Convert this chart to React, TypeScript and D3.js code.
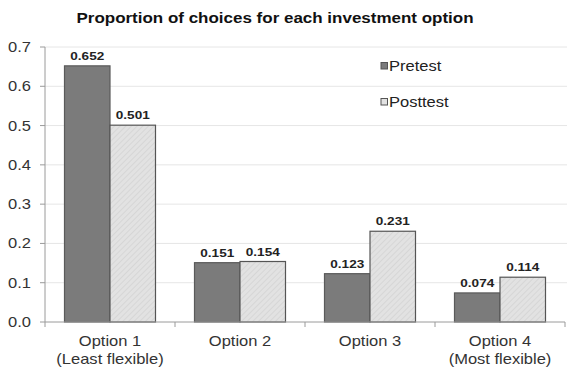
import React, { useEffect, useRef } from "react";
import * as d3 from "d3";

const categories = ["Option 1", "Option 2", "Option 3", "Option 4"];
const subLabels = ["(Least flexible)", "", "", "(Most flexible)"];
const seriesNames = ["Pretest", "Posttest"];
const pretest = [0.652, 0.151, 0.123, 0.074];
const posttest = [0.501, 0.154, 0.231, 0.114];
const yTicks = [0, 0.1, 0.2, 0.3, 0.4, 0.5, 0.6, 0.7];

const W = 567;
const H = 372;
const FONT = "Arial, 'Liberation Sans', Helvetica, sans-serif";
const SX = 1.18; // horizontal stretch of glyphs

export default function App() {
  const ref = useRef<SVGSVGElement>(null);

  useEffect(() => {
    const svg = d3.select(ref.current);
    svg.selectAll("*").remove();

    const left = 45, right = 565, top = 47, bottom = 322;
    const x = d3.scaleBand<string>().domain(categories).range([left, right]).paddingInner(0.3).paddingOuter(0.15);
    const xs = d3.scaleBand<string>().domain(seriesNames).range([0, x.bandwidth()]);
    const y = d3.scaleLinear().domain([0, 0.7]).range([bottom, top]);

    const defs = svg.append("defs");
    const pat = defs.append("pattern").attr("id", "hatch").attr("patternUnits", "userSpaceOnUse")
      .attr("width", 4).attr("height", 4).attr("patternTransform", "rotate(45)");
    pat.append("rect").attr("width", 4).attr("height", 4).attr("fill", "#e2e2e2");
    pat.append("line").attr("x1", 0).attr("y1", 0).attr("x2", 0).attr("y2", 4)
      .attr("stroke", "#cfcfcf").attr("stroke-width", 1.2);

    const stretchText = (sel: d3.Selection<SVGTextElement, any, any, any>, ax: number, ay: number) =>
      sel.attr("transform", `translate(${ax},${ay}) scale(${SX},1)`);

    // gridlines
    svg.append("g").selectAll("line").data(yTicks.filter(d => d > 0)).join("line")
      .attr("x1", left).attr("x2", W).attr("y1", d => y(d)).attr("y2", d => y(d))
      .attr("stroke", "#e6e6e6").attr("stroke-width", 1);

    // y axis
    svg.append("line").attr("x1", left).attr("x2", left).attr("y1", y(0.7)).attr("y2", bottom).attr("stroke", "#9a9a9a");
    svg.append("g").selectAll("line").data(yTicks).join("line")
      .attr("x1", left - 5).attr("x2", left).attr("y1", d => y(d)).attr("y2", d => y(d)).attr("stroke", "#9a9a9a");
    svg.append("g").selectAll("text").data(yTicks).join("text")
      .each(function (d) { stretchText(d3.select(this as SVGTextElement), 31, y(d) + 5); })
      .attr("text-anchor", "end").attr("font-family", FONT).attr("font-size", 14).attr("fill", "#333")
      .text(d => d3.format(".1f")(d));

    // bars
    const groups = svg.append("g").selectAll("g").data(categories).join("g")
      .attr("transform", d => `translate(${x(d)},0)`);
    const vals = [pretest, posttest];
    seriesNames.forEach((s, si) => {
      groups.append("rect")
        .attr("x", xs(s)!).attr("width", xs.bandwidth())
        .attr("y", (_, i) => y(vals[si][i])).attr("height", (_, i) => bottom - y(vals[si][i]))
        .attr("fill", si === 0 ? "#7b7b7b" : "url(#hatch)")
        .attr("stroke", si === 0 ? "#5a5a5a" : "#555").attr("stroke-width", 1.2);
      groups.append("text")
        .each(function (_, i) {
          stretchText(d3.select(this as SVGTextElement), xs(s)! + xs.bandwidth() / 2, y(vals[si][i]) - 6);
        })
        .attr("text-anchor", "middle").attr("font-family", FONT).attr("font-size", 11.5).attr("font-weight", "bold")
        .attr("fill", "#222").text((_, i) => vals[si][i].toFixed(3));
    });

    // x axis
    svg.append("line").attr("x1", left).attr("x2", right).attr("y1", bottom).attr("y2", bottom).attr("stroke", "#9a9a9a");
    svg.append("g").selectAll("line").data([left, ...categories.map(c => x(c)! - x.step() * 0.15 + x.step())]).join("line")
      .attr("x1", d => d).attr("x2", d => d).attr("y1", bottom).attr("y2", bottom + 5).attr("stroke", "#9a9a9a");
    categories.forEach((c, i) => {
      const cx = x(c)! + x.bandwidth() / 2;
      stretchText(svg.append("text"), cx, 346).attr("text-anchor", "middle").attr("font-family", FONT)
        .attr("font-size", 14).attr("fill", "#333").text(c);
      if (subLabels[i]) stretchText(svg.append("text"), cx, 364).attr("text-anchor", "middle").attr("font-family", FONT)
        .attr("font-size", 14).attr("fill", "#333").text(subLabels[i]);
    });

    // legend
    seriesNames.forEach((s, i) => {
      const ly = 66 + i * 36;
      svg.append("rect").attr("x", 381).attr("y", ly - 3.5).attr("width", 6.5).attr("height", 6.5)
        .attr("fill", i === 0 ? "#7b7b7b" : "#e2e2e2").attr("stroke", "#555").attr("stroke-width", 1);
      stretchText(svg.append("text"), 389, ly + 5).attr("font-family", FONT).attr("font-size", 14)
        .attr("fill", "#222").text(s);
    });

    // title
    stretchText(svg.append("text"), 275, 23).attr("text-anchor", "middle").attr("font-family", FONT)
      .attr("font-size", 14.4).attr("font-weight", "bold").attr("fill", "#111")
      .text("Proportion of choices for each investment option");
  }, []);

  return (
    <div style={{ position: "absolute", left: 0, top: 0 }}>
      <svg ref={ref} width={W} height={H} style={{ display: "block", background: "#fff" }} />
    </div>
  );
}
